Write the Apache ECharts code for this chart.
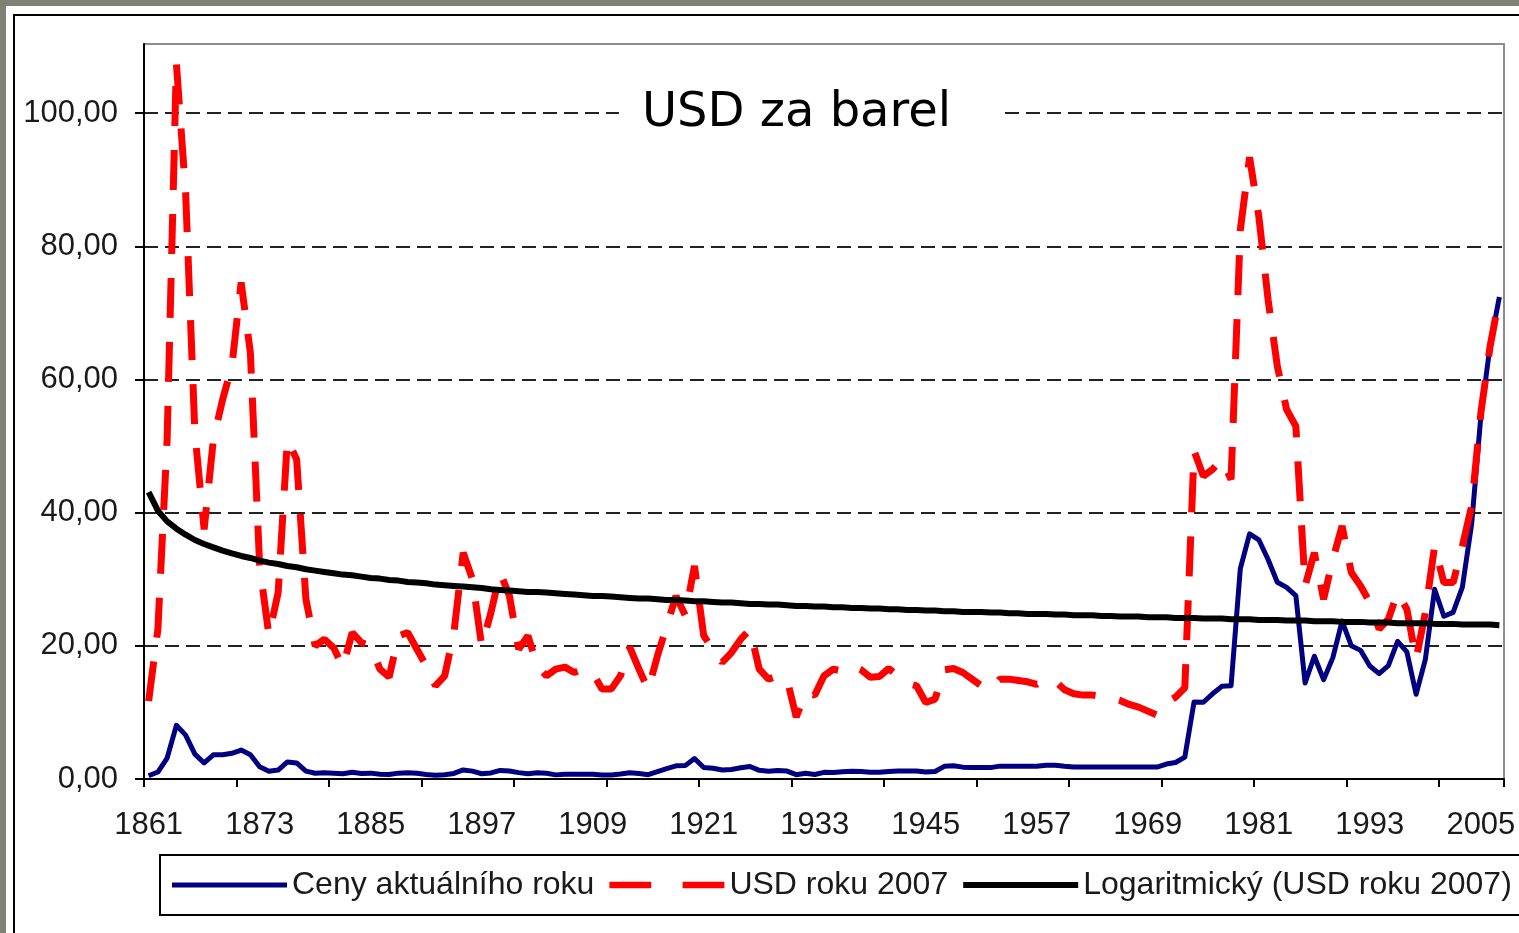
<!DOCTYPE html>
<html><head><meta charset="utf-8">
<script src="https://cdn.jsdelivr.net/npm/echarts@6/dist/echarts.min.js"></script>
<style>html,body{margin:0;padding:0;background:#7f8272;overflow:hidden}#c{width:1519px;height:933px;}</style>
</head><body><div id="c"></div>
<script>
// Categories: years 1861..2007
const years = [];
for (let y = 1861; y <= 2007; y++) years.push(String(y));

const seriesNames = ['Ceny aktuálního roku', 'USD roku 2007', 'Logaritmický (USD roku 2007)'];

// Nominal price (USD per barrel, money of the day)
const nominalPrice = [
  0.49, 1.05, 3.15, 8.06, 6.59, 3.74, 2.41, 3.63, 3.64, 3.86,
  4.34, 3.64, 1.83, 1.17, 1.35, 2.56, 2.42, 1.19, 0.86, 0.95,
  0.86, 0.78, 1.00, 0.84, 0.88, 0.71, 0.67, 0.88, 0.94, 0.87,
  0.67, 0.56, 0.64, 0.84, 1.36, 1.18, 0.79, 0.91, 1.29, 1.19,
  0.96, 0.80, 0.94, 0.86, 0.62, 0.73, 0.72, 0.72, 0.70, 0.61,
  0.61, 0.74, 0.95, 0.81, 0.64, 1.10, 1.56, 1.98, 2.01, 3.07,
  1.73, 1.61, 1.34, 1.43, 1.68, 1.88, 1.30, 1.17, 1.27, 1.19,
  0.65, 0.87, 0.67, 1.00, 0.97, 1.09, 1.18, 1.13, 1.02, 1.02,
  1.14, 1.19, 1.20, 1.21, 1.05, 1.12, 1.90, 1.99, 1.78, 1.71,
  1.71, 1.71, 1.93, 1.93, 1.93, 1.93, 1.90, 2.08, 2.08, 1.90,
  1.80, 1.80, 1.80, 1.80, 1.80, 1.80, 1.80, 1.80, 1.80, 1.80,
  2.24, 2.48, 3.29, 11.58, 11.53, 12.80, 13.92, 14.02, 31.61, 36.83,
  35.93, 32.97, 29.55, 28.78, 27.56, 14.43, 18.44, 14.92, 18.23, 23.73,
  20.00, 19.32, 16.97, 15.82, 17.02, 20.67, 19.09, 12.72, 17.97, 28.50,
  24.44, 25.02, 28.83, 38.27, 54.52, 65.14, 72.39
];

// Price in 2007 USD
const realPrice2007 = [
  11.7, 22.5, 51, 107.5, 88, 52, 37.5, 51, 57, 62,
  74.6, 64, 32, 21.6, 28, 51, 48, 27, 20, 21,
  19.7, 16.8, 22, 20.5, 20, 16.5, 15.3, 21.5, 22, 19.5,
  17, 14, 15.5, 22, 34, 30, 20, 25, 31, 27.5,
  19.5, 21.5, 17, 15.5, 16.5, 16.8, 16, 16.5, 16, 13.5,
  13.5, 15.5, 19.8, 16.5, 13.4, 18.5, 23, 27.5, 24.6, 32,
  21.5, 19.5, 17.5, 19, 21, 22.5, 16.5, 15, 15.5, 15,
  9.3, 13, 12.6, 15.5, 16.5, 16.2, 17, 16.4, 15.3, 15.4,
  16.6, 15.5, 14.4, 14, 11.5, 12, 16.4, 16.6, 16, 15,
  14, 13.4, 15, 15, 14.8, 14.6, 14.2, 15, 14.7, 13.4,
  12.8, 12.6, 12.6, 12.4, 12.2, 11.8, 11.2, 10.8, 10.2, 9.6,
  11.5, 12.3, 13.7, 49.3, 45.5, 46.5, 48, 45, 82.5, 93.4,
  84.5, 72, 62, 55.5, 53, 29, 34, 27, 33, 38,
  31, 29, 26.5, 22.5, 24, 28, 25.5, 18, 25, 35,
  29.5, 29.5, 35, 41, 55, 65, 72.4
];

// Logarithmic trend line
const logTrend = [
  43.1, 40.3, 38.7, 37.6, 36.7, 35.9, 35.3, 34.8, 34.3, 33.9,
  33.5, 33.2, 32.8, 32.5, 32.3, 32.0, 31.8, 31.5, 31.3, 31.1,
  30.9, 30.7, 30.6, 30.4, 30.2, 30.1, 29.9, 29.8, 29.6, 29.5,
  29.4, 29.2, 29.1, 29.0, 28.9, 28.8, 28.7, 28.5, 28.4, 28.3,
  28.2, 28.1, 28.1, 28.0, 27.9, 27.8, 27.7, 27.6, 27.5, 27.5,
  27.4, 27.3, 27.2, 27.1, 27.1, 27.0, 26.9, 26.9, 26.8, 26.7,
  26.7, 26.6, 26.5, 26.5, 26.4, 26.3, 26.3, 26.2, 26.2, 26.1,
  26.0, 26.0, 25.9, 25.9, 25.8, 25.8, 25.7, 25.7, 25.6, 25.6,
  25.5, 25.5, 25.4, 25.4, 25.3, 25.3, 25.2, 25.2, 25.1, 25.1,
  25.1, 25.0, 25.0, 24.9, 24.9, 24.8, 24.8, 24.8, 24.7, 24.7,
  24.6, 24.6, 24.6, 24.5, 24.5, 24.4, 24.4, 24.4, 24.3, 24.3,
  24.3, 24.2, 24.2, 24.2, 24.1, 24.1, 24.1, 24.0, 24.0, 24.0,
  23.9, 23.9, 23.9, 23.8, 23.8, 23.8, 23.7, 23.7, 23.7, 23.6,
  23.6, 23.6, 23.5, 23.5, 23.5, 23.4, 23.4, 23.4, 23.4, 23.3,
  23.3, 23.3, 23.2, 23.2, 23.2, 23.2, 23.1
];

const yTickValues = [0, 20, 40, 60, 80, 100];
const titleText = 'USD za barel';

const FONT = '"Liberation Sans", Arial, sans-serif';
const chart = echarts.init(document.getElementById('c'), null, {renderer: 'canvas'});

// legend icons (line samples)
const iconSolid = 'path://M0 0H115V5H0Z';
const iconDashed = 'path://M0 0H40V6H0Z M70 0H110V6H70Z';
const iconTrend = 'path://M0 0H118V6H0Z';

const option = {
  animation: false,
  backgroundColor: '#7f8272',
  graphic: [
    {type: 'rect', silent: true, z: -100, shape: {x: 6, y: 6, width: 1530, height: 940}, style: {fill: '#ffffff'}},
    {type: 'rect', silent: true, z: -99, shape: {x: 14, y: 15, width: 1530, height: 940}, style: {fill: null, stroke: '#000000', lineWidth: 2}},
    {type: 'text', silent: true, z: 100, x: 810, y: 114,
      style: {text: titleText, font: '48px "DejaVu Sans"', fill: '#000000', align: 'center', verticalAlign: 'middle',
        backgroundColor: '#ffffff', padding: [6, 50, 6, 23]}}
  ],
  grid: {left: 144, right: 15, top: 44, bottom: 154, show: true, backgroundColor: '#ffffff', borderColor: '#8c8c8c', borderWidth: 2},
  xAxis: {
    type: 'category', data: years, boundaryGap: true,
    axisLine: {show: true, lineStyle: {color: '#000', width: 2}},
    axisTick: {show: true, interval: 9, length: 8, lineStyle: {color: '#000', width: 2}},
    axisLabel: {interval: 11, fontSize: 31, fontFamily: FONT, color: '#1a1a1a', margin: 31},
    splitLine: {show: false}
  },
  yAxis: {
    type: 'value', min: 0, max: 110.4, interval: 20,
    axisLine: {show: true, lineStyle: {color: '#000', width: 2}},
    axisTick: {show: true, length: 9, customValues: yTickValues, lineStyle: {color: '#000', width: 2}},
    axisLabel: {customValues: yTickValues, fontSize: 31, fontFamily: FONT, color: '#1a1a1a', margin: 26,
      formatter: v => v.toFixed(2).replace('.', ',')},
    splitLine: {show: true, showMinLine: false, lineStyle: {color: '#222', width: 2, type: [14, 7]}}
  },
  legend: {
    data: [
      {name: seriesNames[0], icon: iconSolid},
      {name: seriesNames[1], icon: iconDashed},
      {name: seriesNames[2], icon: iconTrend}
    ],
    left: 160, top: 855, width: 1400, orient: 'horizontal',
    itemWidth: 115, itemHeight: 32, itemGap: 15, padding: [14, 12],
    borderColor: '#000', borderWidth: 2, backgroundColor: '#ffffff',
    textStyle: {fontSize: 32, fontFamily: FONT, color: '#1a1a1a'}
  },
  series: [
    {name: seriesNames[0], type: 'line', data: nominalPrice, symbol: 'none', z: 2,
      lineStyle: {color: '#000080', width: 5, join: 'round'}, itemStyle: {color: '#000080'}},
    {name: seriesNames[1], type: 'line', data: realPrice2007, symbol: 'none', z: 3,
      lineStyle: {color: '#ff0000', width: 7, type: [40, 24], cap: 'butt'}, itemStyle: {color: '#ff0000'}},
    {name: seriesNames[2], type: 'line', data: logTrend, symbol: 'none', z: 4,
      lineStyle: {color: '#000000', width: 6}, itemStyle: {color: '#000000'}}
  ]
};
chart.setOption(option);
</script>
</body></html>
